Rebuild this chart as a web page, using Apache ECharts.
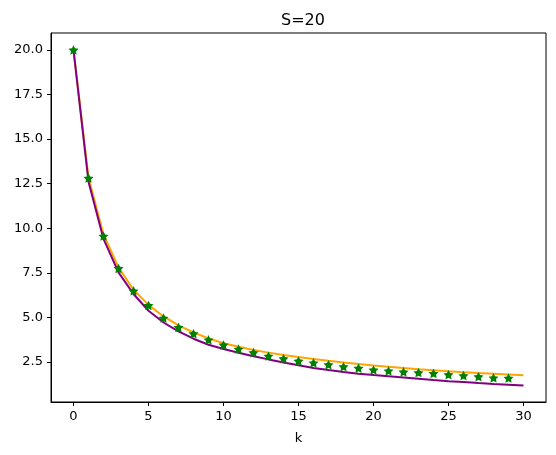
<!DOCTYPE html>
<html>
<head>
<meta charset="utf-8">
<script src="https://cdn.jsdelivr.net/npm/echarts@6/dist/echarts.min.js"></script>
<style>
  html, body { margin: 0; padding: 0; background: #fff; }
  #main { width: 556px; height: 455px; }
</style>
</head>
<body>
<div id="main"></div>
<script>
// values
const kLine = [0, 1, 2, 3, 4, 5, 6, 7, 8, 9, 10, 11, 12, 13, 14, 15, 16, 17, 18, 19, 20, 21, 22, 23, 24, 25, 26, 27, 28, 29, 30];
const orangeVals = [20, 12.85, 9.65, 7.8, 6.55, 5.7, 5.05, 4.55, 4.15, 3.82, 3.55, 3.35, 3.17, 3.02, 2.89, 2.77, 2.66, 2.56, 2.47, 2.38, 2.30, 2.23, 2.16, 2.09, 2.03, 1.97, 1.92, 1.87, 1.83, 1.79, 1.75];
const purpleVals = [20, 12.6, 9.4, 7.52, 6.31, 5.37, 4.71, 4.21, 3.8, 3.46, 3.22, 3.01, 2.82, 2.64, 2.47, 2.31, 2.16, 2.04, 1.93, 1.84, 1.76, 1.69, 1.62, 1.55, 1.48, 1.42, 1.37, 1.31, 1.26, 1.22, 1.17];
const kStars = [0, 1, 2, 3, 4, 5, 6, 7, 8, 9, 10, 11, 12, 13, 14, 15, 16, 17, 18, 19, 20, 21, 22, 23, 24, 25, 26, 27, 28, 29];
const starVals = [20, 12.81, 9.56, 7.74, 6.49, 5.67, 4.96, 4.43, 4.08, 3.74, 3.45, 3.22, 3.02, 2.83, 2.68, 2.55, 2.45, 2.34, 2.23, 2.15, 2.05, 2.0, 1.94, 1.9, 1.85, 1.78, 1.73, 1.67, 1.61, 1.59];
const xTicks = [0, 5, 10, 15, 20, 25, 30];
const yTicks = [2.5, 5.0, 7.5, 10.0, 12.5, 15.0, 17.5, 20.0];

const pairs = (xs, ys) => xs.map((x, i) => [x, ys[i]]);

const starPath = 'path://M0,-10L2.94,-4.05L9.51,-3.09L4.76,1.55L5.88,8.09L0,5L-5.88,8.09L-4.76,1.55L-9.51,-3.09L-2.94,-4.05Z';
const font = 'DejaVu Sans';

const option = {
    animation: false,
    backgroundColor: '#fff',
    title: {
        text: 'S=20',
        left: 298,
        top: 8,
        textAlign: 'center',
        textStyle: { fontFamily: font, fontSize: 16, fontWeight: 'normal', color: '#000' }
    },
    grid: {
        left: 51, right: 10, top: 33, bottom: 53,
        show: true, borderColor: '#000', borderWidth: 1
    },
    xAxis: {
        type: 'value',
        min: -1.5, max: 31.5,
        name: 'k',
        nameLocation: 'middle',
        nameGap: 30,
        nameTextStyle: { fontFamily: font, fontSize: 13, color: '#000' },
        splitLine: { show: false },
        axisLine: { show: true, onZero: false, lineStyle: { color: '#000', width: 1 } },
        axisTick: { show: true, length: 4, lineStyle: { color: '#000' }, customValues: xTicks },
        axisLabel: { fontFamily: font, fontSize: 13, color: '#000', margin: 8, customValues: xTicks }
    },
    yAxis: {
        type: 'value',
        min: 0.25, max: 20.95,
        splitLine: { show: false },
        axisLine: { show: true, onZero: false, lineStyle: { color: '#000', width: 1 } },
        axisTick: { show: true, length: 4, lineStyle: { color: '#000' }, customValues: yTicks },
        axisLabel: {
            fontFamily: font, fontSize: 13, color: '#000', margin: 8,
            customValues: yTicks,
            formatter: v => v.toFixed(1)
        }
    },
    series: [
        {
            type: 'line',
            data: pairs(kLine, orangeVals),
            showSymbol: false,
            lineStyle: { color: '#FFA500', width: 2 },
            z: 2
        },
        {
            type: 'line',
            data: pairs(kLine, purpleVals),
            showSymbol: false,
            lineStyle: { color: '#800080', width: 2 },
            z: 3
        },
        {
            type: 'scatter',
            data: pairs(kStars, starVals),
            symbol: starPath,
            symbolKeepAspect: true,
            symbolSize: 10,
            itemStyle: { color: '#008000', opacity: 1 },
            z: 4
        }
    ]
};

let plot = echarts.init(document.querySelector('#main'));
plot.setOption(option);
</script>
</body>
</html>
